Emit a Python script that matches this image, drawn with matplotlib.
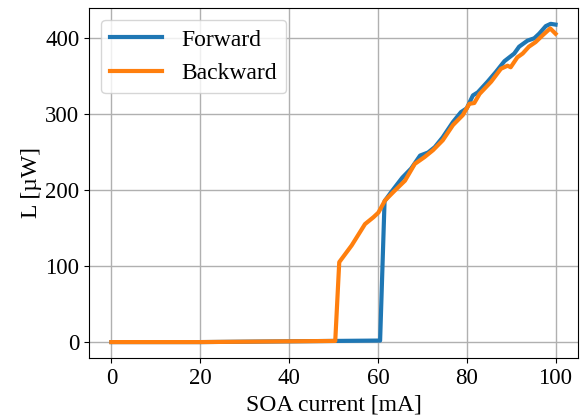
import matplotlib.pyplot as plt

# Forward sweep
fwd_current = [0, 10, 20, 30, 40, 50, 60.5, 61.5, 63, 65.5, 67.5, 69.5, 71.3, 72.8,
               74.6, 76.9, 78.7, 80, 81.4, 82.5, 84.7, 86.6, 88.5, 89.6, 90.7, 91.8,
               93.7, 95.2, 96.3, 97.8, 98.9, 100]
fwd_power = [0, 0, 0, 0.5, 1, 1.5, 2, 185, 197, 216, 228, 245, 249, 256,
             269, 289, 302, 307, 324, 328, 342, 355, 369, 374, 379, 388,
             396, 399, 405, 415, 418, 417]

# Backward sweep
bwd_current = [0, 10, 20, 30, 40, 50.4, 51.3, 54.1, 57.1, 59, 60.1, 61.6, 63.8, 66.1,
               68.3, 70.5, 72.4, 74.6, 76.9, 79.1, 80.6, 81.7, 82.9, 85.5, 87.7, 89.2,
               89.9, 91.4, 92.6, 94, 95.5, 97.1, 98.8, 100]
bwd_power = [0, 0, 0, 0.5, 1, 1.5, 105, 127, 155, 164, 170, 186, 199, 212,
             234, 243, 252, 265, 285, 298, 313, 314, 326, 342, 359, 363,
             361, 374, 379, 388, 394, 403, 412, 405]

plt.rcParams['font.family'] = ['Liberation Serif', 'DejaVu Serif']

fig = plt.figure(figsize=(5.83, 4.17), dpi=100)
ax = fig.add_axes([0.153, 0.1415, 0.838, 0.8395])

ax.plot(fwd_current, fwd_power, color='#1f77b4', lw=3, label='Forward')
ax.plot(bwd_current, bwd_power, color='#ff7f0e', lw=3, label='Backward')

ax.set_xlabel('SOA current [mA]', fontsize=17, labelpad=4)
ax.set_ylabel('L [µW]', fontsize=17, labelpad=2)
ax.set_xticks([0, 20, 40, 60, 80, 100])
ax.set_yticks([0, 100, 200, 300, 400])
ax.tick_params(labelsize=16.5)
ax.grid(True, color='#b0b0b0', lw=1)
ax.legend(loc='upper left', fontsize=17, handlelength=2.2)

fig.savefig('out.png', dpi=100)
